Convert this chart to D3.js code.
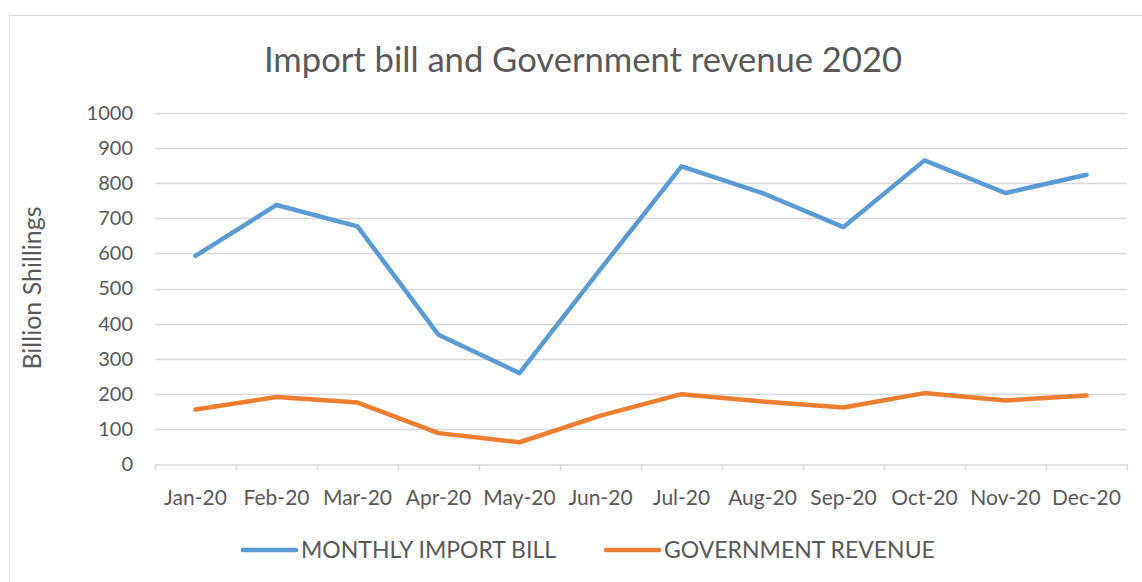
<!DOCTYPE html>
<html>
<head>
<meta charset="utf-8">
<script src="https://cdn.jsdelivr.net/npm/d3@7"></script>
<style>
  body { margin: 0; background: #fff; }
  svg { display: block; font-family: Lato, "Open Sans", sans-serif; }
</style>
</head>
<body>
<div class="chart"></div>
<script>
// data
const months = ['Jan-20', 'Feb-20', 'Mar-20', 'Apr-20', 'May-20', 'Jun-20',
                'Jul-20', 'Aug-20', 'Sep-20', 'Oct-20', 'Nov-20', 'Dec-20'];
const importBill = [593, 738, 677, 368, 259, 555, 848, 772, 675, 865, 772, 824];
const govRevenue = [155, 191, 175, 88, 62, 138, 199, 178, 161, 202, 181, 195];
const yTicks = [0, 100, 200, 300, 400, 500, 600, 700, 800, 900, 1000];
const seriesNames = ['MONTHLY IMPORT BILL', 'GOVERNMENT REVENUE'];

function main() {
    const W = 1142, H = 582;
    const margin = { left: 155, right: 15, top: 113, bottom: 118 };
    const textCol = '#595959';

    const svg = d3.select('.chart')
        .append('svg')
        .attr('width', W)
        .attr('height', H);

    // chart area border
    svg.append('rect')
        .attr('x', 9.5).attr('y', 15.5)
        .attr('width', W + 10).attr('height', H + 10)
        .attr('fill', 'none')
        .attr('stroke', '#d9d9d9')
        .attr('stroke-width', 1);

    const x = d3.scaleBand()
        .domain(months)
        .range([margin.left, W - margin.right]);

    const y = d3.scaleLinear()
        .domain([0, 1000])
        .range([H - margin.bottom, margin.top]);

    // gridlines
    svg.append('g')
        .selectAll('line')
        .data(yTicks.filter(d => d > 0))
        .enter()
        .append('line')
        .attr('x1', margin.left)
        .attr('x2', W - margin.right)
        .attr('y1', d => Math.round(y(d)) + 0.5)
        .attr('y2', d => Math.round(y(d)) + 0.5)
        .attr('stroke', '#d9d9d9')
        .attr('stroke-width', 1.5);

    // x axis
    const xAxis = svg.append('g')
        .attr('transform', `translate(0,${Math.round(y(0)) + 0.5})`)
        .call(d3.axisBottom(x).tickSize(0).tickPadding(26));
    xAxis.select('.domain').attr('stroke', '#d9d9d9').attr('stroke-width', 1.5);
    xAxis.selectAll('text')
        .attr('fill', textCol)
        .style('font-size', '21px')
        .style('font-family', 'Lato, sans-serif');
    // band boundary ticks
    xAxis.selectAll('.bnd')
        .data(months.concat(['end']))
        .enter()
        .append('line')
        .attr('x1', (d, i) => Math.round(margin.left + i * x.step()) + 0.5)
        .attr('x2', (d, i) => Math.round(margin.left + i * x.step()) + 0.5)
        .attr('y1', 0)
        .attr('y2', 6)
        .attr('stroke', '#d9d9d9')
        .attr('stroke-width', 1.5);

    // y axis labels
    const yAxis = svg.append('g')
        .attr('transform', `translate(${margin.left},0)`)
        .call(d3.axisLeft(y).tickValues(yTicks).tickFormat(d3.format('d'))
            .tickSize(0).tickPadding(22));
    yAxis.select('.domain').remove();
    yAxis.selectAll('text')
        .attr('fill', textCol)
        .style('font-size', '20px')
        .style('font-family', 'Lato, sans-serif');

    // y axis title
    svg.append('text')
        .attr('transform', 'translate(41,288) rotate(-90)')
        .attr('text-anchor', 'middle')
        .attr('fill', textCol)
        .style('font-size', '25px')
        .text('Billion Shillings');

    // title
    svg.append('text')
        .attr('x', 583)
        .attr('y', 72)
        .attr('text-anchor', 'middle')
        .attr('fill', textCol)
        .style('font-size', '34.6px')
        .text('Import bill and Government revenue 2020');

    // lines
    const line = d3.line()
        .x((d, i) => x(months[i]) + x.bandwidth() / 2)
        .y(d => y(d));

    const colors = ['#5b9bd5', '#ed7d31'];
    [importBill, govRevenue].forEach((vals, k) => {
        svg.append('path')
            .datum(vals)
            .attr('d', line)
            .attr('fill', 'none')
            .attr('stroke', colors[k])
            .attr('stroke-width', 4.5)
            .attr('stroke-linejoin', 'round')
            .attr('stroke-linecap', 'round');
    });

    // legend
    const legendX = [241, 604];
    seriesNames.forEach((name, k) => {
        const g = svg.append('g')
            .attr('transform', `translate(${legendX[k]},550)`);
        g.append('line')
            .attr('x1', 2).attr('x2', 55)
            .attr('y1', 0).attr('y2', 0)
            .attr('stroke', colors[k])
            .attr('stroke-width', 4.5)
            .attr('stroke-linecap', 'round');
        g.append('text')
            .attr('x', 60)
            .attr('y', 8)
            .attr('fill', textCol)
            .style('font-size', '23px')
            .text(name);
    });
}

main();
</script>
</body>
</html>
